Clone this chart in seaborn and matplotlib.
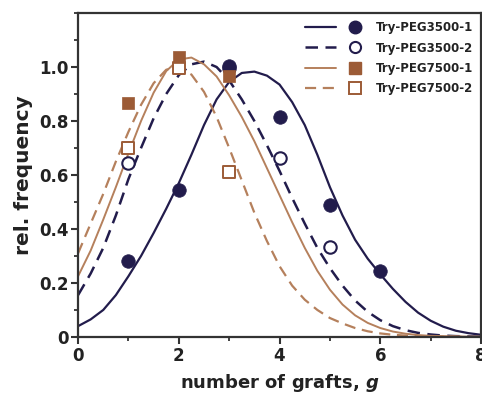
import matplotlib
matplotlib.use("Agg")
import matplotlib.pyplot as plt
import seaborn as sns
from matplotlib.lines import Line2D
from matplotlib.legend_handler import HandlerTuple
from matplotlib.ticker import MultipleLocator

# measured points
g_pts = [1, 2, 3, 4, 5, 6]
peg3500_1 = [0.283, 0.544, 1.005, 0.815, 0.489, 0.245]
g_pts_2 = [1, 3, 4, 5]
peg3500_2 = [0.643, 0.995, 0.662, 0.334]
g_pts_7 = [1, 2, 3]
peg7500_1 = [0.868, 1.036, 0.967]
peg7500_2 = [0.700, 0.998, 0.612]

# fitted curves, every 0.25
g_fit = [0, 0.25, 0.5, 0.75, 1, 1.25, 1.5, 1.75, 2, 2.25, 2.5, 2.75, 3, 3.25,
         3.5, 3.75, 4, 4.25, 4.5, 4.75, 5, 5.25, 5.5, 5.75, 6, 6.25, 6.5, 6.75,
         7, 7.25, 7.5, 7.75, 8]
fit3500_1 = [0.04, 0.065, 0.10, 0.155, 0.225, 0.30, 0.385, 0.475, 0.57, 0.675,
             0.785, 0.88, 0.945, 0.978, 0.983, 0.968, 0.935, 0.87, 0.785, 0.675,
             0.555, 0.45, 0.36, 0.29, 0.232, 0.178, 0.13, 0.09, 0.06, 0.038,
             0.023, 0.014, 0.008]
fit3500_2 = [0.155, 0.235, 0.33, 0.45, 0.585, 0.70, 0.81, 0.90, 0.97, 1.01,
             1.02, 1.0, 0.95, 0.88, 0.80, 0.71, 0.615, 0.515, 0.42, 0.33, 0.255,
             0.19, 0.135, 0.093, 0.062, 0.04, 0.025, 0.015, 0.009, 0.005,
             0.003, 0.002, 0.001]
fit7500_1 = [0.225, 0.32, 0.435, 0.555, 0.68, 0.80, 0.905, 0.985, 1.028, 1.035,
             1.01, 0.965, 0.895, 0.815, 0.725, 0.625, 0.525, 0.425, 0.33, 0.245,
             0.175, 0.12, 0.08, 0.052, 0.033, 0.02, 0.012, 0.007, 0.004,
             0.003, 0.002, 0.001, 0.001]
fit7500_2 = [0.31, 0.42, 0.53, 0.65, 0.76, 0.86, 0.94, 0.99, 1.0, 0.972,
             0.908, 0.815, 0.70, 0.58, 0.46, 0.355, 0.262, 0.19, 0.138, 0.10,
             0.07, 0.05, 0.033, 0.021, 0.013, 0.008, 0.005, 0.003, 0.002,
             0.001, 0.001, 0.0, 0.0]

labels = ["Try-PEG3500-1", "Try-PEG3500-2", "Try-PEG7500-1", "Try-PEG7500-2"]

navy = "#221c4c"
brown = "#9c5b36"
brown_line = "#b5805c"
dash = (0, (5, 3))

sns.set_style("ticks")
plt.rcParams["font.family"] = ["DejaVu Sans"]

fig = plt.figure(figsize=(4.82, 3.95), dpi=100)
ax = fig.add_axes([0.162, 0.147, 0.836, 0.82])

sns.lineplot(x=g_fit, y=fit3500_1, ax=ax, color=navy, lw=1.6)
sns.lineplot(x=g_fit, y=fit3500_2, ax=ax, color=navy, lw=1.8, linestyle=dash)
sns.lineplot(x=g_fit, y=fit7500_1, ax=ax, color=brown_line, lw=1.4)
sns.lineplot(x=g_fit, y=fit7500_2, ax=ax, color=brown_line, lw=1.6, linestyle=dash)

sns.scatterplot(x=g_pts_2, y=peg3500_2, ax=ax, marker="o", s=80,
                facecolor="white", edgecolor=navy, linewidth=1.5, zorder=3)
sns.scatterplot(x=g_pts, y=peg3500_1, ax=ax, marker="o", s=95,
                color=navy, edgecolor=navy, linewidth=0.5, zorder=4)
sns.scatterplot(x=g_pts_7, y=peg7500_2, ax=ax, marker="s", s=70,
                facecolor="white", edgecolor=brown, linewidth=1.4, zorder=3)
sns.scatterplot(x=g_pts_7, y=peg7500_1, ax=ax, marker="s", s=75,
                color=brown, edgecolor=brown, linewidth=0.5, zorder=4)

ax.set_xlim(0, 8)
ax.set_ylim(0, 1.2)
ax.xaxis.set_major_locator(MultipleLocator(2))
ax.xaxis.set_minor_locator(MultipleLocator(1))
ax.yaxis.set_major_locator(MultipleLocator(0.2))
ax.yaxis.set_minor_locator(MultipleLocator(0.1))
ax.set_yticks([0, 0.2, 0.4, 0.6, 0.8, 1.0])
ax.set_yticklabels(["0", "0.2", "0.4", "0.6", "0.8", "1.0"])
ax.set_xticks([0, 2, 4, 6, 8])
ax.set_xticklabels(["0", "2", "4", "6", "8"])

for s in ax.spines.values():
    s.set_color("#333333")
    s.set_linewidth(1.6)
ax.tick_params(which="major", direction="out", length=5, width=1.5,
               color="#333333", labelsize=12, pad=2)
ax.tick_params(which="minor", direction="out", length=3, width=1.3,
               color="#333333")
for t in ax.get_xticklabels() + ax.get_yticklabels():
    t.set_fontweight("bold")
    t.set_color("#222222")

ax.set_xlabel("number of grafts, $\\mathbfit{g}$", fontsize=13, fontweight="bold",
              labelpad=5, color="#222222")
ax.set_ylabel("rel. frequency", fontsize=14.5, fontweight="bold", labelpad=4,
              color="#222222")

h = [
    (Line2D([], [], color=navy, lw=1.6),
     Line2D([], [], color=navy, marker="o", ms=9, ls="none")),
    (Line2D([], [], color=navy, lw=1.8, ls=dash),
     Line2D([], [], color=navy, marker="o", ms=8, mfc="white", mew=1.5, ls="none")),
    (Line2D([], [], color=brown_line, lw=1.4),
     Line2D([], [], color=brown, marker="s", ms=8, ls="none")),
    (Line2D([], [], color=brown_line, lw=1.6, ls=dash),
     Line2D([], [], color=brown, marker="s", ms=8, mfc="white", mew=1.4, ls="none")),
]
leg = ax.legend(h, labels, handler_map={tuple: HandlerTuple(ndivide=None, pad=0.3)},
                loc="upper right", frameon=False, fontsize=8.5, handlelength=5.6,
                handletextpad=0.4, labelspacing=0.62, borderaxespad=0.3)
for t in leg.get_texts():
    t.set_fontweight("bold")
    t.set_color("#222222")

fig.savefig("out.png", dpi=100)
